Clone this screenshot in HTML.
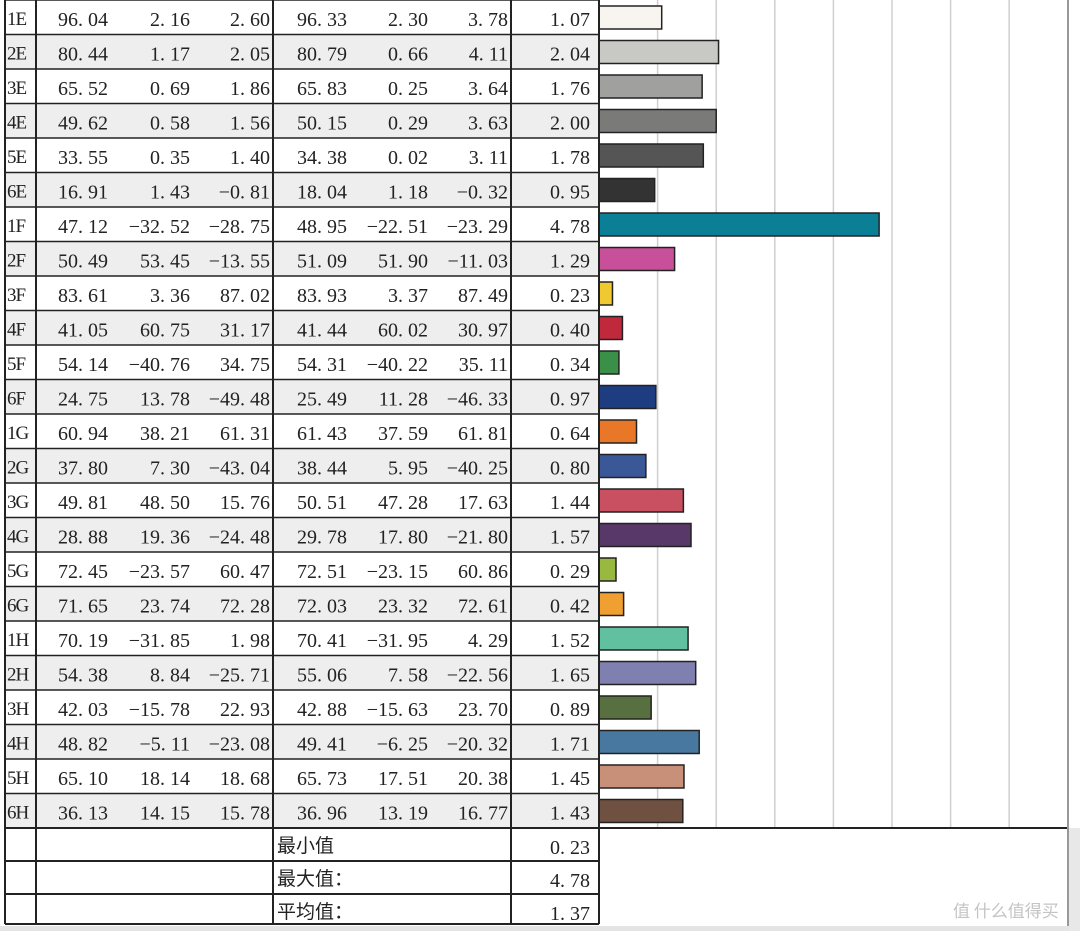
<!DOCTYPE html>
<html><head><meta charset="utf-8"><style>
body{margin:0;background:#fff}
svg text{font-family:"Liberation Serif","Noto Serif CJK SC",serif;font-size:20px;fill:#222}
</style></head><body>
<svg width="1080" height="931" xmlns="http://www.w3.org/2000/svg">
<rect width="1080" height="931" fill="#fff"/>
<rect x="0" y="926" width="1080" height="5" fill="#e4e4e4"/>
<rect x="1069" y="828" width="11" height="103" fill="#e8e8e8"/>
<g id="bg"></g>
<g id="grid" stroke="#cfcfcf" stroke-width="1.5"></g>
<g id="bars" stroke="#222" stroke-width="1.5"></g>
<g id="txt"></g>
<g id="lines" stroke="#222" stroke-width="2" fill="none"></g>
<text x="953" y="917" style="fill:#c4c4c4;font-size:17px;font-family:'Noto Sans CJK SC',sans-serif">值 什么值得买</text>
</svg>
<script>
const d=[["1E","96.04","2.16","2.60","96.33","2.30","3.78","1.07","#f8f4f0"],
["2E","80.44","1.17","2.05","80.79","0.66","4.11","2.04","#c8c8c4"],
["3E","65.52","0.69","1.86","65.83","0.25","3.64","1.76","#a0a09e"],
["4E","49.62","0.58","1.56","50.15","0.29","3.63","2.00","#7a7a78"],
["5E","33.55","0.35","1.40","34.38","0.02","3.11","1.78","#555555"],
["6E","16.91","1.43","-0.81","18.04","1.18","-0.32","0.95","#333333"],
["1F","47.12","-32.52","-28.75","48.95","-22.51","-23.29","4.78","#0a7f96"],
["2F","50.49","53.45","-13.55","51.09","51.90","-11.03","1.29","#c8509a"],
["3F","83.61","3.36","87.02","83.93","3.37","87.49","0.23","#f0c830"],
["4F","41.05","60.75","31.17","41.44","60.02","30.97","0.40","#c0283c"],
["5F","54.14","-40.76","34.75","54.31","-40.22","35.11","0.34","#3a9048"],
["6F","24.75","13.78","-49.48","25.49","11.28","-46.33","0.97","#1e3c80"],
["1G","60.94","38.21","61.31","61.43","37.59","61.81","0.64","#e87828"],
["2G","37.80","7.30","-43.04","38.44","5.95","-40.25","0.80","#3a5898"],
["3G","49.81","48.50","15.76","50.51","47.28","17.63","1.44","#c85060"],
["4G","28.88","19.36","-24.48","29.78","17.80","-21.80","1.57","#583868"],
["5G","72.45","-23.57","60.47","72.51","-23.15","60.86","0.29","#98b840"],
["6G","71.65","23.74","72.28","72.03","23.32","72.61","0.42","#f0a030"],
["1H","70.19","-31.85","1.98","70.41","-31.95","4.29","1.52","#60c0a0"],
["2H","54.38","8.84","-25.71","55.06","7.58","-22.56","1.65","#8080b0"],
["3H","42.03","-15.78","22.93","42.88","-15.63","23.70","0.89","#587040"],
["4H","48.82","-5.11","-23.08","49.41","-6.25","-20.32","1.71","#4878a0"],
["5H","65.10","18.14","18.68","65.73","17.51","20.38","1.45","#c89078"],
["6H","36.13","14.15","15.78","36.96","13.19","16.77","1.43","#705040"]];
const NS="http://www.w3.org/2000/svg";
function el(p,t,a,txt){const e=document.createElementNS(NS,t);for(const k in a)e.setAttribute(k,a[k]);if(txt!=null)e.textContent=txt;document.getElementById(p).appendChild(e);}
const H=34.5,U=58.6,X0=599,xs=[108,190,270,347,428,508,590];
d.forEach((r,i)=>{const t=i*H;
 if(i%2==1)el("bg","rect",{x:6,y:t,width:593,height:H,fill:"#eeeeee"});
 el("txt","text",{x:7,y:t+25,style:"font-size:19px;letter-spacing:-1px"},r[0]);
 for(let j=0;j<7;j++)el("txt","text",{x:xs[j],y:t+26,"text-anchor":"end"},r[j+1].replace(".",". ").replace("-","−"));
 el("bars","rect",{x:X0,y:t+6,width:parseFloat(r[7])*U,height:23,fill:r[8]});
 el("lines","line",{x1:5,x2:599,y1:t,y2:t,"stroke-width":1.5});
});
for(let k=1;k<=8;k++){const x=X0+k*U;el("grid","line",{x1:x,x2:x,y1:0,y2:828});}
const sy=[828,861,894,924];
["最小值","最大值：","平均值："].forEach((s,i)=>{el("txt","text",{x:277,y:sy[i]+24,style:"font-family:'Noto Sans CJK SC',sans-serif;font-size:19px"},s);
 el("txt","text",{x:590,y:sy[i]+26,"text-anchor":"end"},["0. 23","4. 78","1. 37"][i]);});
sy.forEach(y=>el("lines","line",{x1:5,x2:599,y1:y,y2:y}));
el("lines","line",{x1:599,x2:1068,y1:828,y2:828});
[5,36,273,511,599].forEach(x=>el("lines","line",{x1:x,x2:x,y1:0,y2:924}));
el("lines","line",{x1:1068,x2:1068,y1:0,y2:926,stroke:"#999"});
</script>
</body></html>
